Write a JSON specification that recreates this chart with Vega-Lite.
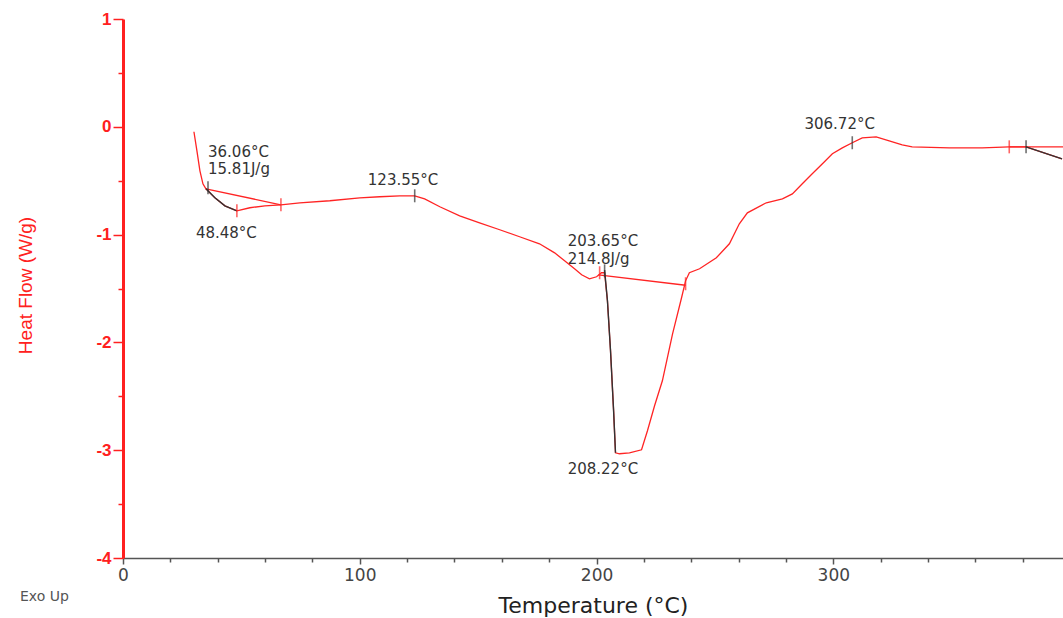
{
  "$schema": "https://vega.github.io/schema/vega-lite/v6.json",
  "width": 940,
  "height": 539,
  "autosize": "none",
  "padding": {"left": 123, "top": 19, "right": 0, "bottom": 60},
  "background": "white",
  "config": {"view": {"stroke": null}},
  "datasets": {
    "curve": [
      {"T": 29.96, "HF": -0.046}, {"T": 31.22, "HF": -0.223}, {"T": 32.49, "HF": -0.408},
      {"T": 33.76, "HF": -0.529}, {"T": 35.02, "HF": -0.575}, {"T": 38.82, "HF": -0.659},
      {"T": 43.04, "HF": -0.733}, {"T": 48.10, "HF": -0.779}, {"T": 53.59, "HF": -0.751},
      {"T": 59.92, "HF": -0.733}, {"T": 66.67, "HF": -0.724}, {"T": 74.68, "HF": -0.705},
      {"T": 87.34, "HF": -0.686}, {"T": 100.0, "HF": -0.659}, {"T": 108.4, "HF": -0.649},
      {"T": 116.9, "HF": -0.640}, {"T": 123.2, "HF": -0.640}, {"T": 127.4, "HF": -0.668},
      {"T": 133.8, "HF": -0.742}, {"T": 142.2, "HF": -0.826}, {"T": 150.6, "HF": -0.891},
      {"T": 159.1, "HF": -0.955}, {"T": 167.5, "HF": -1.020}, {"T": 175.9, "HF": -1.085},
      {"T": 182.3, "HF": -1.169}, {"T": 186.5, "HF": -1.243}, {"T": 190.7, "HF": -1.317},
      {"T": 193.7, "HF": -1.373}, {"T": 197.0, "HF": -1.410}, {"T": 200.0, "HF": -1.391},
      {"T": 202.1, "HF": -1.354}, {"T": 203.4, "HF": -1.354}, {"T": 204.6, "HF": -1.614},
      {"T": 205.9, "HF": -2.078}, {"T": 207.2, "HF": -2.635}, {"T": 208.0, "HF": -3.024},
      {"T": 209.7, "HF": -3.033}, {"T": 213.9, "HF": -3.024}, {"T": 219.0, "HF": -2.996},
      {"T": 221.5, "HF": -2.820}, {"T": 224.5, "HF": -2.588}, {"T": 227.8, "HF": -2.356},
      {"T": 232.1, "HF": -1.920}, {"T": 235.9, "HF": -1.586}, {"T": 237.6, "HF": -1.429},
      {"T": 239.2, "HF": -1.354}, {"T": 243.5, "HF": -1.317}, {"T": 250.6, "HF": -1.215},
      {"T": 256.1, "HF": -1.085}, {"T": 260.3, "HF": -0.900}, {"T": 263.7, "HF": -0.798},
      {"T": 271.7, "HF": -0.705}, {"T": 278.5, "HF": -0.668}, {"T": 282.7, "HF": -0.622},
      {"T": 286.9, "HF": -0.529}, {"T": 291.1, "HF": -0.436}, {"T": 295.4, "HF": -0.343},
      {"T": 299.6, "HF": -0.250}, {"T": 303.8, "HF": -0.195}, {"T": 308.0, "HF": -0.148},
      {"T": 312.2, "HF": -0.102}, {"T": 318.1, "HF": -0.093}, {"T": 323.6, "HF": -0.130},
      {"T": 329.1, "HF": -0.167}, {"T": 333.3, "HF": -0.186}, {"T": 349.0, "HF": -0.195},
      {"T": 362.9, "HF": -0.195}, {"T": 374.3, "HF": -0.186}, {"T": 381.4, "HF": -0.186},
      {"T": 396.6, "HF": -0.297}
    ],
    "overlay": [
      {"g": "a", "T": 35.02, "HF": -0.575}, {"g": "a", "T": 38.82, "HF": -0.659},
      {"g": "a", "T": 43.04, "HF": -0.733}, {"g": "a", "T": 48.10, "HF": -0.779},
      {"g": "b", "T": 203.4, "HF": -1.330}, {"g": "b", "T": 204.6, "HF": -1.614},
      {"g": "b", "T": 205.9, "HF": -2.078}, {"g": "b", "T": 207.2, "HF": -2.635},
      {"g": "b", "T": 208.0, "HF": -3.024},
      {"g": "c", "T": 381.4, "HF": -0.186}, {"g": "c", "T": 396.6, "HF": -0.297}
    ],
    "baseline": [
      {"g": "a", "T": 35.02, "HF": -0.575}, {"g": "a", "T": 66.67, "HF": -0.724},
      {"g": "b", "T": 200.8, "HF": -1.373}, {"g": "b", "T": 237.6, "HF": -1.470},
      {"g": "c", "T": 374.3, "HF": -0.186}, {"g": "c", "T": 397.0, "HF": -0.186}
    ],
    "markers": [
      {"kind": "analysis", "T": 35.9, "HF": -0.566},
      {"kind": "analysis", "T": 123.2, "HF": -0.640},
      {"kind": "analysis", "T": 203.4, "HF": -1.336},
      {"kind": "analysis", "T": 308.0, "HF": -0.148},
      {"kind": "analysis", "T": 381.4, "HF": -0.186},
      {"kind": "limit", "T": 48.1, "HF": -0.779},
      {"kind": "limit", "T": 66.7, "HF": -0.724},
      {"kind": "limit", "T": 201.3, "HF": -1.354},
      {"kind": "limit", "T": 237.6, "HF": -1.456},
      {"kind": "limit", "T": 374.3, "HF": -0.186}
    ],
    "labels": [
      {"T": 35.9, "HF": -0.235, "label": "36.06°C"},
      {"T": 35.9, "HF": -0.395, "label": "15.81J/g"},
      {"T": 30.8, "HF": -0.983, "label": "48.48°C"},
      {"T": 103.4, "HF": -0.492, "label": "123.55°C"},
      {"T": 187.8, "HF": -1.062, "label": "203.65°C"},
      {"T": 187.8, "HF": -1.222, "label": "214.8J/g"},
      {"T": 187.8, "HF": -3.173, "label": "208.22°C"},
      {"T": 287.8, "HF": 0.028, "label": "306.72°C"}
    ],
    "note": [
      {"T": -43.5, "HF": -4.36, "label": "Exo Up"}
    ]
  },
  "layer": [
    {
      "data": {"name": "curve"},
      "mark": {"type": "line", "color": "#ff2424", "strokeWidth": 1.3},
      "encoding": {
        "x": {
          "field": "T", "type": "quantitative",
          "scale": {"domain": [0, 397], "nice": false, "zero": false},
          "axis": {
            "values": [0, 20, 40, 60, 80, 100, 120, 140, 160, 180, 200, 220, 240, 260, 280, 300, 320, 340, 360, 380],
            "labelExpr": "datum.value % 100 === 0 ? '' + datum.value : ''",
            "tickSize": {"condition": {"test": "datum.value % 100 === 0", "value": 6}, "value": 4},
            "grid": false,
            "domainColor": "#555", "domainWidth": 1.5,
            "tickColor": "#555", "tickWidth": 1.5,
            "labelColor": "#444", "labelFont": "DejaVu Sans", "labelFontSize": 17,
            "labelPadding": 3, "labelFlush": false,
            "title": "Temperature (°C)", "titleFont": "DejaVu Sans", "titleFontSize": 22,
            "titleFontWeight": "normal", "titleColor": "#222",
            "titleY": 47, "titleBaseline": "middle"
          }
        },
        "y": {
          "field": "HF", "type": "quantitative",
          "scale": {"domain": [-4, 1], "nice": false, "zero": false},
          "axis": {
            "values": [-4, -3.75, -3.5, -3.25, -3, -2.75, -2.5, -2.25, -2, -1.75, -1.5, -1.25, -1, -0.75, -0.5, -0.25, 0, 0.25, 0.5, 0.75, 1],
            "labelExpr": "datum.value % 1 === 0 ? '' + datum.value : ''",
            "tickSize": {"condition": {"test": "datum.value % 1 === 0", "value": 10}, "value": 5},
            "grid": false,
            "domainColor": "#ff2020", "domainWidth": 3,
            "tickColor": "#ff2020", "tickWidth": 1.5,
            "labelColor": "#ff2020", "labelFont": "Liberation Sans", "labelFontSize": 17,
            "labelFontWeight": "bold", "labelPadding": 2,
            "title": "Heat Flow (W/g)", "titleFont": "Liberation Sans", "titleFontSize": 19,
            "titleFontWeight": "normal", "titleColor": "#ff2020",
            "titleX": -98, "titleY": 266, "titleAngle": -90, "titleBaseline": "middle", "titleAlign": "center"
          }
        }
      }
    },
    {
      "mark": {"type": "rule", "color": "#666", "strokeWidth": 1},
      "encoding": {"y": {"datum": 1, "type": "quantitative"}}
    },
    {
      "data": {"name": "baseline"},
      "mark": {"type": "line", "color": "#ff2424", "strokeWidth": 1.3},
      "encoding": {
        "x": {"field": "T", "type": "quantitative"},
        "y": {"field": "HF", "type": "quantitative"},
        "detail": {"field": "g", "type": "nominal"}
      }
    },
    {
      "data": {"name": "overlay"},
      "mark": {"type": "line", "color": "#333333", "strokeWidth": 1.4},
      "encoding": {
        "x": {"field": "T", "type": "quantitative"},
        "y": {"field": "HF", "type": "quantitative"},
        "detail": {"field": "g", "type": "nominal"}
      }
    },
    {
      "data": {"name": "markers"},
      "mark": {"type": "tick", "orient": "vertical", "size": 13, "thickness": 1.6},
      "encoding": {
        "x": {"field": "T", "type": "quantitative"},
        "y": {"field": "HF", "type": "quantitative"},
        "color": {
          "field": "kind", "type": "nominal",
          "scale": {"domain": ["analysis", "limit"], "range": ["#333333", "#ff2424"]},
          "legend": null
        }
      }
    },
    {
      "data": {"name": "labels"},
      "mark": {"type": "text", "align": "left", "baseline": "middle", "font": "DejaVu Sans", "fontSize": 15, "color": "#333333"},
      "encoding": {
        "x": {"field": "T", "type": "quantitative"},
        "y": {"field": "HF", "type": "quantitative"},
        "text": {"field": "label"}
      }
    },
    {
      "data": {"name": "note"},
      "mark": {"type": "text", "align": "left", "baseline": "middle", "font": "DejaVu Sans", "fontSize": 14, "color": "#555555"},
      "encoding": {
        "x": {"field": "T", "type": "quantitative"},
        "y": {"field": "HF", "type": "quantitative"},
        "text": {"field": "label"}
      }
    }
  ]
}
